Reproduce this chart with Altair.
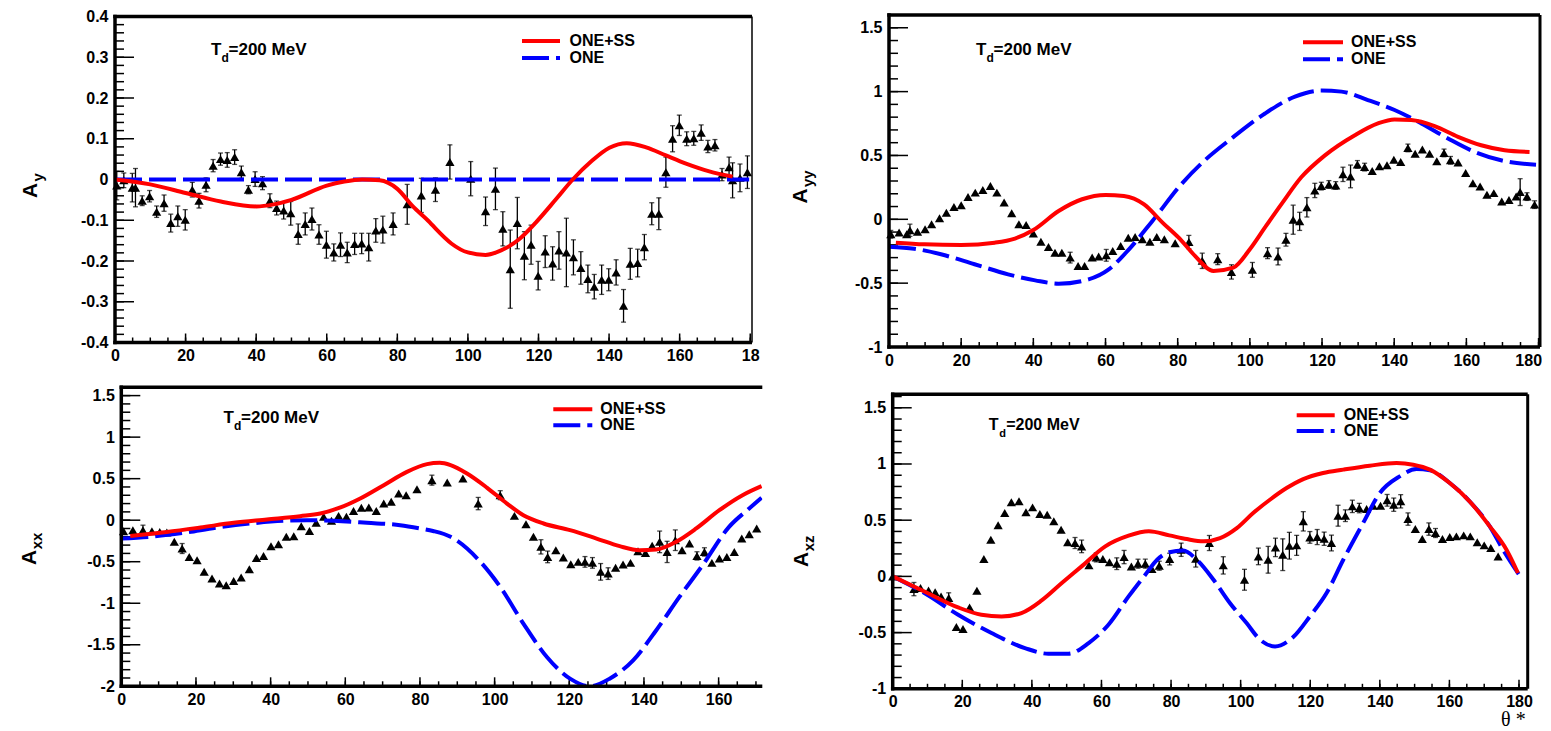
import altair as alt
import pandas as pd
import numpy as np

# ---------------- Panel A_y ----------------
ay_theta = [0.5, 2.5, 4.9, 5.8, 7.7, 9.8, 11.8, 13.9, 15.8, 17.8, 19.9, 21.9, 23.8, 25.8, 27.8, 29.9,
            31.8, 33.9, 35.8, 37.8, 39.7, 41.8, 43.9, 45.8, 47.8, 49.8, 51.9, 53.9, 55.8, 57.8, 59.9,
            62.0, 63.9, 65.8, 67.9, 69.9, 71.9, 73.9, 75.9, 78.8, 82.8, 86.8, 90.8, 94.9, 100.8, 105.0,
            107.8, 109.9, 112.0, 114.0, 116.0, 117.9, 119.9, 121.9, 124.0, 125.8, 127.9, 129.9, 132.0,
            134.0, 135.8, 137.9, 139.9, 142.0, 144.1, 146.0, 148.1, 150.0, 152.1, 154.1, 156.1, 158.0,
            159.9, 162.0, 164.0, 166.1, 168.0, 170.0, 172.0, 174.0, 175.0, 177.1, 179.2]
ay_val = [-0.015, -0.002, -0.020, -0.020, -0.052, -0.041, -0.079, -0.058, -0.107, -0.090, -0.099,
          -0.025, -0.052, -0.013, 0.034, 0.050, 0.048, 0.055, 0.018, -0.025, 0.001, -0.009, -0.052,
          -0.070, -0.076, -0.083, -0.134, -0.109, -0.097, -0.135, -0.160, -0.179, -0.160, -0.179,
          -0.158, -0.157, -0.166, -0.125, -0.123, -0.109, -0.061, -0.039, -0.025, 0.043, 0.002, -0.078,
          -0.023, -0.121, -0.220, -0.107, -0.187, -0.160, -0.236, -0.177, -0.206, -0.174, -0.179,
          -0.191, -0.217, -0.244, -0.263, -0.246, -0.246, -0.228, -0.310, -0.207, -0.205, -0.166,
          -0.084, -0.084, 0.018, 0.100, 0.133, 0.100, 0.101, 0.115, 0.081, 0.084, 0.012, 0.030,
          -0.002, 0.004, 0.018]
ay_err = [0.035, 0.018, 0.035, 0.047, 0.012, 0.014, 0.014, 0.020, 0.022, 0.025, 0.025, 0.018, 0.018,
          0.017, 0.015, 0.015, 0.018, 0.018, 0.015, 0.010, 0.018, 0.016, 0.017, 0.017, 0.021, 0.029,
          0.025, 0.027, 0.027, 0.024, 0.033, 0.021, 0.029, 0.025, 0.026, 0.025, 0.034, 0.029, 0.033,
          0.027, 0.049, 0.042, 0.029, 0.042, 0.042, 0.035, 0.051, 0.042, 0.096, 0.063, 0.059, 0.048,
          0.035, 0.039, 0.041, 0.046, 0.084, 0.043, 0.040, 0.034, 0.030, 0.036, 0.027, 0.031, 0.040,
          0.038, 0.034, 0.031, 0.027, 0.039, 0.037, 0.032, 0.025, 0.017, 0.017, 0.019, 0.015, 0.014,
          0.015, 0.025, 0.043, 0.034, 0.040]
ay_ss_theta = [0, 10, 20, 30, 40, 45, 50, 60, 65, 70, 75, 80, 84.4, 89.2, 91, 95.3, 100, 105, 109.4,
               114.6, 119.3, 125, 129.7, 134.9, 140.1, 145, 150.5, 156.1, 161.8, 168.4, 175]
ay_ss_val = [0, -0.012, -0.033, -0.054, -0.066, -0.061, -0.050, -0.015, -0.005, 0.0, -0.002, -0.023,
             -0.066, -0.105, -0.122, -0.157, -0.179, -0.185, -0.174, -0.146, -0.105, -0.048, 0.0,
             0.044, 0.078, 0.089, 0.079, 0.059, 0.039, 0.020, 0.007]
ay_one_theta = [0, 90, 179.7]
ay_one_val = [0, 0, 0]

# ---------------- Panel A_yy ----------------
ayy_theta = [0.5, 2.8, 4.9, 5.8, 7.9, 10.0, 11.8, 14.0, 15.9, 18.0, 20.0, 21.9, 23.9, 26.0, 28.1, 29.9,
             31.9, 34.0, 36.0, 38.0, 40.0, 42.1, 44.2, 46.0, 47.9, 50.2, 52.4, 54.2, 56.3, 58.1, 60.2,
             62.0, 64.2, 66.3, 68.2, 70.2, 72.3, 74.2, 76.3, 79.3, 83.1, 86.8, 91.1, 94.9, 100.7,
             104.9, 107.8, 110.0, 112.0, 113.8, 115.8, 118.0, 119.8, 121.9, 123.8, 125.8, 127.9,
             129.8, 131.8, 133.9, 135.9, 138.0, 139.9, 141.8, 143.8, 145.8, 147.8, 149.8, 151.8,
             153.8, 155.6, 157.7, 159.8, 161.8, 163.8, 165.7, 167.6, 169.8, 171.8, 173.8, 174.9,
             176.8, 178.9]
ayy_val = [-0.117, -0.104, -0.117, -0.086, -0.097, -0.078, -0.039, 0.008, 0.052, 0.097, 0.110, 0.175,
           0.209, 0.230, 0.261, 0.209, 0.131, 0.047, -0.039, -0.044, -0.112, -0.175, -0.217, -0.261,
           -0.261, -0.300, -0.366, -0.366, -0.300, -0.292, -0.282, -0.248, -0.209, -0.144, -0.138,
           -0.157, -0.175, -0.138, -0.157, -0.188, -0.178, -0.325, -0.312, -0.412, -0.396, -0.265,
           -0.291, -0.160, -0.003, -0.016, 0.094, 0.226, 0.260, 0.273, 0.265, 0.352, 0.336, 0.430,
           0.409, 0.378, 0.415, 0.423, 0.467, 0.449, 0.559, 0.514, 0.546, 0.514, 0.454, 0.520, 0.462,
           0.444, 0.362, 0.283, 0.257, 0.192, 0.205, 0.139, 0.152, 0.178, 0.213, 0.178, 0.115]
ayy_err = [0.03, 0, 0, 0.048, 0, 0, 0, 0, 0, 0, 0, 0, 0, 0, 0, 0, 0, 0, 0, 0, 0, 0, 0, 0, 0, 0.042, 0,
           0, 0, 0, 0.046, 0, 0, 0, 0, 0, 0, 0, 0, 0, 0.052, 0.060, 0.043, 0.056, 0.058, 0.043, 0.066,
           0.050, 0.114, 0.071, 0.076, 0.056, 0.03, 0.03, 0.03, 0.056, 0.089, 0.03, 0.03, 0, 0, 0, 0,
           0, 0.03, 0, 0, 0, 0, 0.03, 0.03, 0, 0, 0, 0, 0, 0, 0, 0, 0, 0.105, 0.03, 0.03]
ayy_ss_theta = [1.9, 9.8, 20, 29.3, 34.9, 40, 47, 53.5, 60, 65.1, 70.7, 75.8, 81.1, 84.8, 89.9, 95.4,
                100, 104.2, 108.8, 114.3, 120.8, 129.1, 135.5, 140.1, 144.7, 151.2, 157.7, 164.1,
                170.6, 177.5]
ayy_ss_val = [-0.183, -0.196, -0.201, -0.183, -0.151, -0.084, 0.065, 0.157, 0.191, 0.183, 0.117,
              -0.026, -0.168, -0.286, -0.404, -0.378, -0.234, -0.063, 0.121, 0.331, 0.501, 0.659,
              0.751, 0.782, 0.777, 0.730, 0.646, 0.580, 0.541, 0.528]
ayy_one_theta = [0, 7, 14.4, 23.7, 33, 40.5, 47, 55.3, 60.9, 66.5, 73, 81.1, 87.5, 94.9, 104.2, 112.5,
                 119.8, 125.4, 132.7, 140.1, 147.5, 154.9, 162.3, 169.6, 179.3]
ayy_one_val = [-0.214, -0.230, -0.274, -0.352, -0.431, -0.478, -0.504, -0.470, -0.392, -0.235,
               -0.013, 0.278, 0.462, 0.633, 0.829, 0.961, 1.008, 1.000, 0.934, 0.856, 0.751, 0.633,
               0.528, 0.462, 0.428]

# ---------------- Panel A_xx ----------------
axx_theta = [0.6, 3.1, 5.8, 8.2, 10.3, 12.2, 14.2, 16.3, 18.2, 20.3, 22.2, 24.3, 26.3, 28.1, 30.1,
             32.1, 34.3, 36.2, 38.1, 40.1, 42.1, 44.2, 46.2, 48.2, 50.4, 52.2, 54.2, 56.3, 58.2, 60.3,
             62.2, 64.3, 66.3, 68.3, 70.3, 72.3, 74.3, 76.3, 79.2, 83.2, 87.3, 91.5, 95.6, 101.5,
             105.3, 108.4, 110.4, 112.4, 114.2, 116.4, 118.4, 120.4, 122.4, 124.2, 126.2, 128.4,
             130.4, 132.4, 134.4, 136.4, 138.4, 140.4, 142.2, 144.2, 146.2, 148.4, 150.2, 152.2,
             154.2, 156.2, 158.2, 160.2, 162.2, 164.2, 166.2, 168.2, 170.2]
axx_val = [-0.133, -0.120, -0.120, -0.133, -0.141, -0.149, -0.261, -0.341, -0.442, -0.482, -0.622,
           -0.703, -0.763, -0.783, -0.731, -0.691, -0.590, -0.454, -0.430, -0.313, -0.289, -0.200,
           -0.193, -0.072, -0.129, -0.032, 0.040, -0.008, 0.052, 0.040, 0.112, 0.149, 0.153, 0.112,
           0.200, 0.221, 0.321, 0.301, 0.373, 0.482, 0.454, 0.502, 0.200, 0.301, 0.052, -0.048,
           -0.200, -0.321, -0.442, -0.361, -0.450, -0.530, -0.502, -0.502, -0.514, -0.622, -0.643,
           -0.574, -0.534, -0.514, -0.373, -0.394, -0.309, -0.261, -0.382, -0.241, -0.361, -0.281,
           -0.430, -0.382, -0.514, -0.462, -0.442, -0.382, -0.221, -0.169, -0.100]
axx_err = [0, 0, 0.06, 0, 0, 0, 0, 0.06, 0, 0, 0, 0, 0, 0, 0, 0, 0, 0, 0, 0, 0, 0, 0, 0, 0, 0, 0, 0,
           0, 0, 0, 0, 0, 0, 0, 0, 0, 0, 0, 0.06, 0, 0, 0.074, 0.054, 0, 0, 0, 0.086, 0.07, 0, 0, 0,
           0, 0.064, 0.064, 0.10, 0.07, 0, 0, 0, 0, 0, 0, 0.13, 0.128, 0.124, 0, 0, 0.05, 0.05, 0,
           0, 0, 0, 0, 0, 0]
axx_ss_theta = [2.4, 12.2, 21.2, 30.1, 39, 47.9, 53.3, 58.7, 64, 70.3, 76.5, 81.9, 85.3, 88.2, 92.6,
                98, 103.3, 107.7, 113.1, 120.2, 127.3, 133.5, 138.8, 143.3, 148.6, 154, 160.2, 166.4,
                171.5]
axx_ss_val = [-0.189, -0.141, -0.088, -0.032, 0.008, 0.048, 0.080, 0.153, 0.261, 0.422, 0.582, 0.675,
              0.691, 0.663, 0.562, 0.390, 0.200, 0.060, -0.040, -0.120, -0.221, -0.313, -0.361,
              -0.353, -0.261, -0.100, 0.120, 0.301, 0.410]
axx_one_theta = [0, 7.8, 16.7, 25.6, 34.6, 43.5, 49.7, 56.9, 65.8, 74.7, 80.1, 83.5, 88.2, 96.2, 101.5,
                 107.7, 114, 120.2, 125.5, 130.8, 137.1, 143.3, 149.5, 155.7, 162.8, 168.2, 171.5]
axx_one_val = [-0.221, -0.200, -0.153, -0.088, -0.040, -0.008, 0.0, -0.008, -0.032, -0.060, -0.100,
               -0.130, -0.200, -0.502, -0.803, -1.245, -1.647, -1.908, -2.0, -1.908, -1.687, -1.325,
               -0.924, -0.542, -0.080, 0.141, 0.270]

# ---------------- Panel A_xz ----------------
axz_theta = [0.0, 6.1, 8.0, 10.3, 12.2, 13.9, 16.1, 18.3, 20.2, 22.1, 24.2, 26.2, 28.2, 30.3, 32.2,
             34.1, 36.3, 38.3, 40.2, 42.3, 44.4, 46.3, 48.4, 50.3, 52.4, 54.3, 56.4, 58.5, 60.4, 62.3,
             64.4, 66.5, 68.6, 70.5, 72.6, 74.5, 76.6, 79.6, 82.9, 87.1, 91.0, 95.0, 101.1, 105.1,
             107.9, 110.0, 112.1, 114.0, 116.1, 118.0, 119.9, 122.0, 124.0, 126.1, 128.0, 130.1,
             132.1, 134.1, 136.2, 138.1, 140.2, 142.1, 144.0, 146.0, 148.1, 150.2, 152.2, 154.1,
             156.0, 158.0, 160.1, 162.0, 164.1, 166.0, 168.0, 170.0, 171.9, 174.0]
axz_val = [0.0, -0.113, -0.104, -0.125, -0.142, -0.178, -0.193, -0.451, -0.469, -0.276, -0.128, 0.154,
           0.326, 0.454, 0.564, 0.659, 0.668, 0.570, 0.614, 0.555, 0.549, 0.490, 0.415, 0.303, 0.297,
           0.267, 0.098, 0.169, 0.154, 0.125, 0.113, 0.172, 0.089, 0.113, 0.113, 0.065, 0.095, 0.154,
           0.237, 0.157, 0.297, 0.098, -0.030, 0.178, 0.148, 0.258, 0.193, 0.273, 0.276, 0.490, 0.347,
           0.350, 0.335, 0.297, 0.540, 0.540, 0.623, 0.608, 0.599, 0.629, 0.629, 0.677, 0.638, 0.668,
           0.510, 0.421, 0.332, 0.421, 0.386, 0.332, 0.350, 0.356, 0.365, 0.356, 0.303, 0.276, 0.252,
           0.178]
axz_err = [0, 0.059, 0, 0, 0, 0, 0.047, 0, 0, 0, 0, 0, 0, 0, 0, 0, 0, 0, 0, 0, 0, 0, 0, 0, 0.049,
           0.056, 0, 0.04, 0, 0, 0.052, 0.059, 0, 0.04, 0.04, 0, 0.04, 0.052, 0.059, 0.074, 0.067,
           0.077, 0.093, 0.074, 0.119, 0.082, 0.141, 0.119, 0.089, 0.086, 0.052, 0.067, 0.059, 0.070,
           0.093, 0.052, 0.055, 0.042, 0, 0, 0, 0.052, 0.059, 0.059, 0.055, 0, 0, 0.055, 0.04, 0, 0,
           0, 0, 0, 0, 0, 0, 0]
axz_ss_theta = [0, 9.1, 18.8, 25.5, 31.3, 37, 42.8, 48.6, 54.3, 61.1, 67.8, 73.6, 79.5, 84.5, 89.3,
                94.1, 98.9, 103.6, 108.4, 113.2, 118, 123.7, 129.5, 137.1, 144.8, 149.6, 154.4, 160.1,
                165.8, 171.6, 176.4, 179.7]
axz_ss_val = [0.0, -0.134, -0.276, -0.341, -0.356, -0.326, -0.214, -0.059, 0.089, 0.267, 0.362,
              0.401, 0.365, 0.332, 0.312, 0.341, 0.430, 0.564, 0.682, 0.786, 0.866, 0.920, 0.950,
              0.985, 1.009, 0.994, 0.950, 0.831, 0.668, 0.445, 0.237, 0.030]
axz_one_theta = [0, 9.1, 18.8, 28.4, 38, 44.7, 50.5, 56.3, 62, 67.8, 72.6, 76, 79.5, 83.5, 87.4, 92.2,
                 96.9, 101.7, 105.6, 109.9, 115.1, 119.9, 124.7, 129.5, 135.2, 140, 145.7, 150.5,
                 154.4, 160.1, 165.8, 171.6, 175.4, 180]
axz_one_val = [0.0, -0.148, -0.341, -0.504, -0.638, -0.688, -0.688, -0.593, -0.430, -0.178, 0.015,
               0.148, 0.215, 0.230, 0.148, -0.030, -0.237, -0.415, -0.564, -0.623, -0.540, -0.356,
               -0.148, 0.148, 0.475, 0.742, 0.890, 0.955, 0.944, 0.831, 0.668, 0.445, 0.237, 0.015]

# axis tick values
x_major_180 = [0, 20, 40, 60, 80, 100, 120, 140, 160, 180]
x_major_160 = [0, 20, 40, 60, 80, 100, 120, 140, 160]
ay_yticks = [-0.4, -0.3, -0.2, -0.1, 0, 0.1, 0.2, 0.3, 0.4]
ayy_yticks = [-1, -0.5, 0, 0.5, 1, 1.5]
axx_yticks = [-2, -1.5, -1, -0.5, 0, 0.5, 1, 1.5]

FONT = "Liberation Sans"
RED = "#ff0000"
BLUE = "#0000ff"
ONE_ROW = pd.DataFrame({"a": [0]})


def txt(x, y, s, size, align="left", baseline="alphabetic", angle=0, font=FONT, weight="bold"):
    return alt.Chart(ONE_ROW).mark_text(
        text=s, fontSize=size, font=font, fontWeight=weight, color="black",
        align=align, baseline=baseline, angle=angle
    ).encode(x=alt.value(x), y=alt.value(y))


def hrule(x0, x1, y, color, width, dash=None):
    kw = dict(color=color, strokeWidth=width)
    if dash:
        kw["strokeDash"] = dash
    return alt.Chart(ONE_ROW).mark_rule(**kw).encode(
        x=alt.value(x0), x2=alt.value(x1), y=alt.value(y))


def vrule(x, y0, y1, color, width):
    return alt.Chart(ONE_ROW).mark_rule(color=color, strokeWidth=width).encode(
        x=alt.value(x), y=alt.value(y0), y2=alt.value(y1))


def make_panel(c):
    W, H, dx, dy = c["W"], c["H"], c["dx"], c["dy"]
    x0, x1 = c["xdom"]
    y0, y1 = c["ydom"]
    kx = W / (x1 - x0)
    ky = H / (y1 - y0)
    xs = alt.Scale(domain=[x0 - dx / kx, x1], nice=False, zero=False)
    ys = alt.Scale(domain=[y0, y1 + dy / ky], nice=False, zero=False)
    xaxis_kw = dict(values=c["xmajor"], title=None, ticks=False, grid=False, domain=False,
                    labelFont=FONT, labelFontWeight="bold", labelFontSize=16,
                    labelColor="black", labelPadding=5, labelFlush=False, labelOverlap=False,
                    labelExpr=c["xlabelexpr"])
    if c.get("last_right"):
        xaxis_kw["labelAlign"] = {"condition": {"test": "datum.value == 180", "value": "right"},
                                  "value": "center"}
        xaxis_kw["labelOffset"] = {"condition": {"test": "datum.value == 180", "value": 3},
                                   "value": 0}
    xaxis = alt.Axis(**xaxis_kw)
    yaxis = alt.Axis(values=c["ymajor"], title=None, ticks=False, grid=False, domain=False,
                     labelFont=FONT, labelFontWeight="bold", labelFontSize=16, offset=-dx,
                     labelColor="black", labelPadding=7, labelFlush=False, labelOverlap=False,
                     labelExpr="replace(format(datum.value, '~g'), '\u2212', '-')")

    def X(f):
        return alt.X(f, type="quantitative", scale=xs, axis=xaxis)

    def Y(f):
        return alt.Y(f, type="quantitative", scale=ys, axis=yaxis)

    layers = []
    # inward ticks
    layers.append(alt.Chart(pd.DataFrame({"v": c["ymajor"]})).mark_rule(color="black", strokeWidth=1.5)
                  .encode(y=Y("v"), x=alt.value(dx), x2=alt.value(dx + 19)))
    layers.append(alt.Chart(pd.DataFrame({"v": c["yminor"]})).mark_rule(color="black", strokeWidth=1.5)
                  .encode(y=Y("v"), x=alt.value(dx), x2=alt.value(dx + 9)))
    layers.append(alt.Chart(pd.DataFrame({"t": c["xmajor"]})).mark_rule(color="black", strokeWidth=1.5)
                  .encode(x=X("t"), y=alt.value(dy + H), y2=alt.value(dy + H - 9)))
    layers.append(alt.Chart(pd.DataFrame({"t": c["xminor"]})).mark_rule(color="black", strokeWidth=1.5)
                  .encode(x=X("t"), y=alt.value(dy + H), y2=alt.value(dy + H - 5)))

    pts = pd.DataFrame({"t": c["theta"], "v": c["val"], "e": c["err"]})
    pts["lo"] = pts["v"] - pts["e"]
    pts["hi"] = pts["v"] + pts["e"]
    base = alt.Chart(pts)
    layers.append(base.transform_filter("datum.e > 0").mark_rule(color="black", strokeWidth=1.3)
                  .encode(x=X("t"), y=Y("lo"), y2=alt.Y2("hi")))
    layers.append(base.transform_filter("datum.e > 0")
                  .mark_tick(color="black", orient="horizontal", size=5, thickness=1.3)
                  .encode(x=X("t"), y=Y("lo")))
    layers.append(base.transform_filter("datum.e > 0")
                  .mark_tick(color="black", orient="horizontal", size=5, thickness=1.3)
                  .encode(x=X("t"), y=Y("hi")))
    layers.append(base.mark_point(shape="triangle-up", filled=True, color="black", size=85, opacity=1)
                  .encode(x=X("t"), y=Y("v")))

    one = pd.DataFrame({"t": c["one_t"], "v": c["one_v"]})
    layers.append(alt.Chart(one).mark_line(color=BLUE, strokeWidth=4, strokeDash=[27, 7],
                                           interpolate="monotone", clip=True)
                  .encode(x=X("t"), y=Y("v")))
    ss = pd.DataFrame({"t": c["ss_t"], "v": c["ss_v"]})
    layers.append(alt.Chart(ss).mark_line(color=RED, strokeWidth=4, interpolate="monotone", clip=True)
                  .encode(x=X("t"), y=Y("v")))

    # frame (axis lines drawn by hand)
    h = 1.75
    layers.append(vrule(dx, dy - h, dy + H + h, "black", 3.5))
    layers.append(hrule(dx - h, dx + W, dy + H, "black", 3.5))
    layers.append(hrule(dx - h, dx + W, dy, "black", 3.5))
    if c["rw"] > 0:
        layers.append(vrule(dx + W, dy, dy + H, "black", c["rw"]))

    # T_d label
    tx, ty, ts = c["tlab"]
    tx += dx
    ty += dy
    layers.append(txt(tx, ty, "T", ts))
    layers.append(txt(tx + 10.5, ty + 6.5, "d", ts - 5))
    layers.append(txt(tx + 17.5, ty, "=200 MeV", ts))

    # legend
    lx0, lx1, ly0, ly1, ltx = c["leg"]
    layers.append(hrule(dx + lx0, dx + lx1, dy + ly0, RED, 4))
    layers.append(hrule(dx + lx0, dx + lx1, dy + ly1, BLUE, 4, [27, 7]))
    layers.append(txt(dx + ltx, dy + ly0, "ONE+SS", 16, baseline="middle"))
    layers.append(txt(dx + ltx, dy + ly1, "ONE", 16, baseline="middle"))

    # y title
    ax, ay, sx, sy, sub = c["ytitle"]
    layers.append(txt(dx + ax, dy + ay, "A", 21, align="center", baseline="middle", angle=270))
    layers.append(txt(dx + sx, dy + sy, sub, 15, align="left", baseline="middle", angle=270))

    for (ex, ey, es, esize, efont) in c.get("extra_text", []):
        layers.append(txt(dx + ex, dy + ey, es, esize, align="right", font=efont, weight="normal"))
    layers.extend(c.get("extra", []))
    return alt.layer(*layers).properties(width=dx + W, height=dy + H)


p1 = make_panel(dict(
    W=637, H=326, dx=0, dy=1.5, xdom=[0, 180.5], ydom=[-0.4, 0.4],
    xmajor=x_major_180, xminor=list(range(0, 181, 5)),
    xlabelexpr="datum.value == 180 ? '18' : datum.label",
    ymajor=ay_yticks, yminor=[round(v, 2) for v in np.arange(-0.4, 0.4001, 0.02)],
    theta=ay_theta, val=ay_val, err=ay_err,
    ss_t=ay_ss_theta, ss_v=ay_ss_val, one_t=ay_one_theta, one_v=ay_one_val,
    rw=1.5, tlab=(96, 38.8, 17), leg=(407, 445, 24.5, 41.5, 454.5),
    ytitle=(-83.7, 174, -76.7, 165, "y"),
    extra=[alt.Chart(ONE_ROW).mark_rule(color="white", strokeWidth=1)
           .encode(x=alt.value(-106.2), x2=alt.value(-106.0), y=alt.value(-6.2))],
))

p2 = make_panel(dict(
    W=651, H=332, dx=0, dy=0, xdom=[0, 180.4], ydom=[-1, 1.6],
    xmajor=x_major_180, xminor=list(range(0, 181, 5)),
    xlabelexpr="datum.label", last_right=True,
    ymajor=ayy_yticks, yminor=[round(v, 1) for v in np.arange(-1, 1.601, 0.1)],
    theta=ayy_theta, val=ayy_val, err=ayy_err,
    ss_t=ayy_ss_theta, ss_v=ayy_ss_val, one_t=ayy_one_theta, one_v=ayy_one_val,
    rw=3, tlab=(87, 40, 17), leg=(414, 454, 27.3, 44.3, 462),
    ytitle=(-88, 181, -81, 172, "yy"),
))

p3 = make_panel(dict(
    W=641, H=299, dx=6.3, dy=0, xdom=[0, 171.7], ydom=[-2, 1.6],
    xmajor=x_major_160, xminor=list(range(0, 171, 5)),
    xlabelexpr="datum.label",
    ymajor=axx_yticks, yminor=[round(v, 1) for v in np.arange(-2, 1.601, 0.1)],
    theta=axx_theta, val=axx_val, err=axx_err,
    ss_t=axx_ss_theta, ss_v=axx_ss_val, one_t=axx_one_theta, one_v=axx_one_val,
    rw=0, tlab=(102.3, 35.7, 17), leg=(432, 471, 22, 38, 479),
    ytitle=(-91, 170, -84, 162, "xx"),
))

p4 = make_panel(dict(
    W=635, H=294.5, dx=3.7, dy=7, xdom=[0, 182.5], ydom=[-1, 1.62],
    xmajor=x_major_180, xminor=list(range(0, 181, 5)),
    xlabelexpr="datum.label",
    ymajor=ayy_yticks, yminor=[round(v, 1) for v in np.arange(-1, 1.601, 0.1)],
    theta=axz_theta, val=axz_val, err=axz_err,
    ss_t=axz_ss_theta, ss_v=axz_ss_val, one_t=axz_one_theta, one_v=axz_one_val,
    rw=3, tlab=(96, 36, 16), leg=(404, 442, 21, 36.7, 451),
    ytitle=(-90.7, 165, -83.7, 157, "xz"),
    extra_text=[(633, 332, "\u03b8 *", 20, "Liberation Serif")],
))

chart = alt.concat(
    p1, p2, p3, p4, columns=2, bounds="flush",
    spacing=alt.RowColnumber(row=40.3, column=126),
).properties(padding=0, background="white").configure_view(stroke=None)

chart.save("out.html", embed_options={"renderer": "svg", "actions": False})
